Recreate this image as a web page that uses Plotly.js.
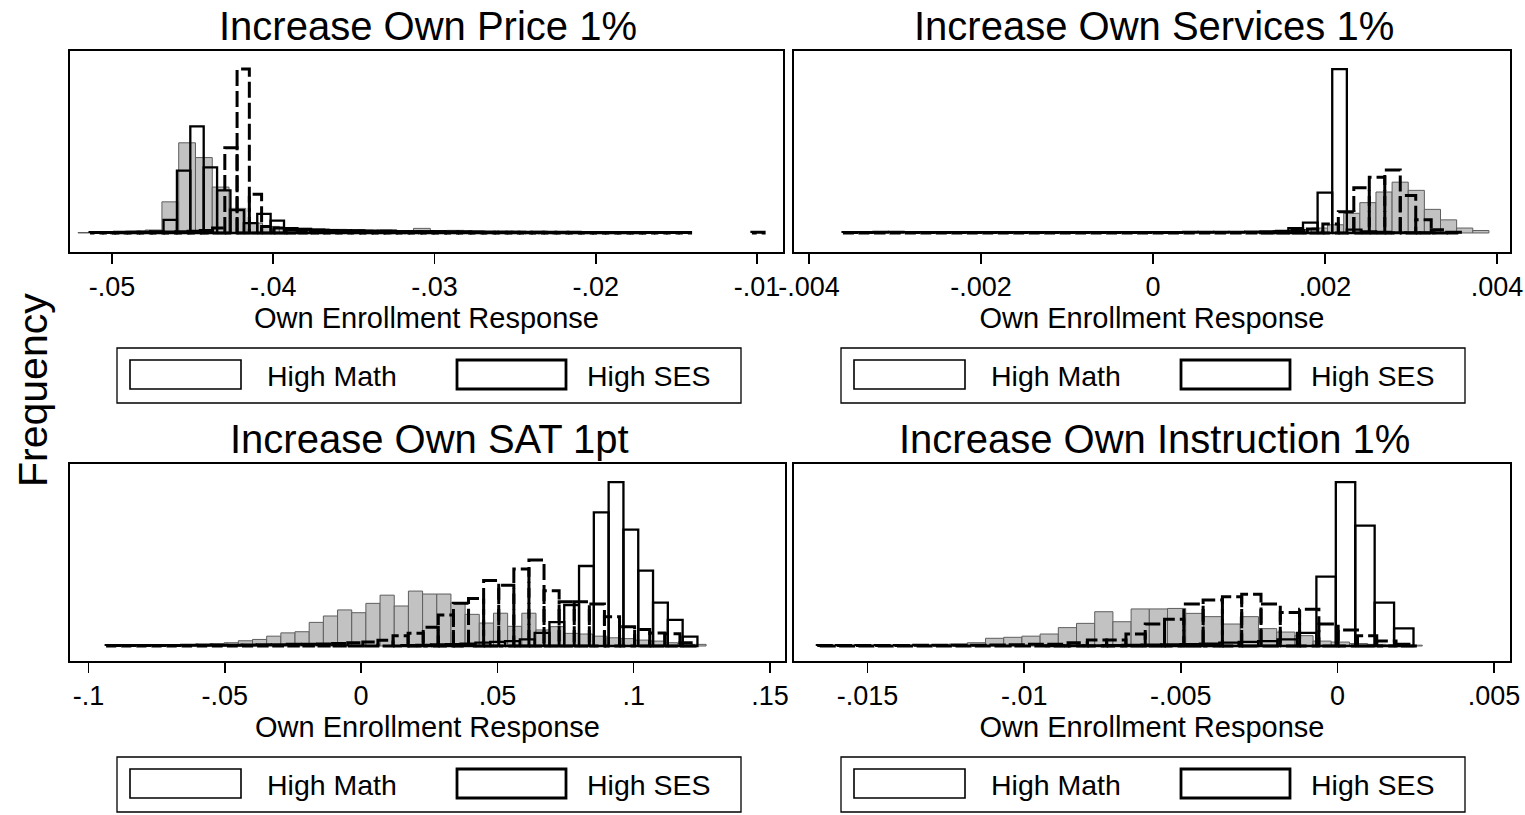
<!DOCTYPE html>
<html>
<head>
<meta charset="utf-8">
<script src="https://cdn.plot.ly/plotly-3.0.1.min.js"></script>
<style>html,body{margin:0;padding:0;background:#fff;}#chart{width:1525px;height:815px;}</style>
</head>
<body>
<div id="chart"></div>
<script>
// ---------------- DATA ----------------
// Heights are relative frequencies (tallest bar in each panel = 100).
const panelTitles = ['Increase Own Price 1%', 'Increase Own Services 1%', 'Increase Own SAT 1pt', 'Increase Own Instruction 1%'];
const xAxisTitle = 'Own Enrollment Response';
const yAxisTitle = 'Frequency';
const legendLabels = ['High Math', 'High SES'];

// Panel 1: Increase Own Price 1%
const priceAllStart = -0.0521, priceAllWidth = 0.00104;
const priceAll = [0.3, 0.5, 0.8, 1.2, 1.8, 19, 55, 46, 28, 15, 6, 4, 3, 2.8, 2.5, 2.2, 2, 1.8, 2, 1.5, 2.8, 1.3, 1.6, 1.2, 1, 1, 0.9, 1.1, 0.8, 0.8, 0.7, 0.6, 0.6, 0.5, 0.4, 0.3];
const priceMathStart = -0.05012, priceMathWidth = 0.00083;
const priceMath = [0.3, 0.4, 0.6, 1, 8, 38, 65, 40, 26, 14, 6, 11.6, 7.5, 3, 2.5, 2, 1.8, 1.5, 1.5, 1.2, 1.2, 1, 1, 1, 0.9, 0.8, 0.8, 0.7, 0.7, 0.6, 0.6, 0.5, 0.5, 0.5, 0.4, 0.4, 0.3, 0.3, 0.3, 0.3];
const priceSesStart = -0.05136, priceSesWidth = 0.00076;
const priceSes = [0.3, 0.3, 0.4, 0.4, 0.5, 0.5, 0.6, 0.8, 1, 1.5, 3, 52, 100, 23.6, 4, 3, 2, 1.8, 1.5, 1.3, 1.2, 1, 1, 0.9, 0.9, 0.8, 0.8, 0.7, 0.7, 0.6, 0.6, 0.6, 0.5, 0.5, 0.5, 0.5, 0.4, 0.4, 0.4, 0.4, 0.3, 0.3, 0.3, 0.3, 0.3, 0.3, 0.3, 0.3, 0.3, 0, 0, 0, 0, 0, 0.4];
const priceTickVals = [-0.05, -0.04, -0.03, -0.02, -0.01];
const priceTickText = ['-.05', '-.04', '-.03', '-.02', '-.01'];

// Panel 2: Increase Own Services 1%
const servAllStart = 0.000529, servAllWidth = 0.0001876;
const servAll = [0.3, 0.5, 0.6, 0.8, 1, 1.5, 2, 3, 5, 12, 18.5, 25, 31, 26, 14.4, 8, 3, 1.5];
const servMathStart = 0.001234, servMathWidth = 0.00017;
const servMath = [0.5, 1, 3, 6.3, 24.6, 100, 2, 1, 0.6, 0.4, 0.3, 0.3];
const servSesStart = -0.003605, servSesWidth = 0.00018;
const servSes = [0.3, 0.3, 0.5, 0.4, 0.3, 0.3, 0.3, 0.3, 0.3, 0.3, 0.3, 0.3, 0.3, 0.3, 0.3, 0.3, 0.3, 0.3, 0.3, 0.3, 0.3, 0.3, 0.4, 0.4, 0.5, 0.5, 0.6, 0.8, 1, 1.5, 2.5, 5.5, 13, 27.6, 34, 38.4, 22.8, 8, 2, 0.5];
const servTickVals = [-0.004, -0.002, 0, 0.002, 0.004];
const servTickText = ['-.004', '-.002', '0', '.002', '.004'];

// Panel 3: Increase Own SAT 1pt
const satAllStart = -0.06585, satAllWidth = 0.0052;
const satAll = [0.8, 1.2, 1.5, 2, 3.2, 4, 6, 8, 8.7, 14.4, 18.3, 22, 20.3, 26, 31, 24.4, 33.5, 31.7, 31.7, 26.4, 19.3, 14, 20, 12, 20, 9.8, 11.8, 7.7, 7.3, 6, 5, 4.5, 3.6, 3, 2, 1.5, 1];
const satMathStart = 0.01478, satMathWidth = 0.00543;
const satMath = [0.5, 0.7, 1, 1.2, 1.5, 2, 2.5, 3, 4, 8, 14.5, 25, 48.8, 81.5, 100, 71, 46, 26.4, 15.9, 5.7];
const satSesStart = -0.09356, satSesWidth = 0.00554;
const satSes = [0.3, 0.3, 0.3, 0.3, 0.3, 0.4, 0.4, 0.5, 0.5, 0.6, 0.7, 0.8, 1, 1, 1.2, 1.5, 2, 2.5, 3.5, 6.3, 7.7, 11.4, 18.9, 26, 29, 40, 37, 47, 52.4, 33.7, 27, 27, 25.6, 17.9, 11.8, 10, 8, 7.5, 2];
const satTickVals = [-0.1, -0.05, 0, 0.05, 0.1, 0.15];
const satTickText = ['-.1', '-.05', '0', '.05', '.1', '.15'];

// Panel 4: Increase Own Instruction 1%
const instAllStart = -0.01414, instAllWidth = 0.000581;
const instAll = [0.4, 0.5, 0.8, 1.2, 2, 4.7, 5.3, 6, 7.3, 11.2, 13.8, 20.9, 14.8, 22.6, 22.6, 22.9, 19.9, 17.9, 13.4, 17.9, 10.6, 8.5, 6.3, 3, 2.4, 1.5, 1, 0.7, 0.5];
const instMathStart = -0.009351, instMathWidth = 0.00062;
const instMath = [0.3, 0.3, 0.4, 0.5, 0.6, 0.8, 1, 1.2, 1.5, 2, 2.5, 3, 4, 8, 42.3, 100, 73.4, 26.4, 10.8];
const instSesStart = -0.016608, instSesWidth = 0.000616;
const instSes = [0.3, 0.3, 0.3, 0.3, 0.3, 0.4, 0.4, 0.5, 0.5, 0.6, 0.8, 1, 1, 2, 3.6, 3.6, 7.3, 13.4, 16.3, 25.6, 28, 30, 31.5, 25.6, 20.5, 22.4, 13.4, 9.8, 6.3, 3, 1];
const instTickVals = [-0.015, -0.01, -0.005, 0, 0.005];
const instTickText = ['-.015', '-.01', '-.005', '0', '.005'];

// ---------------- BUILD ----------------
const W = 1525, H = 815;
const fx = x => x / W;
const fy = y => 1 - y / H;
const FONT = 'Liberation Sans, Arial, Helvetica, sans-serif';

const panels = [
  {all:[priceAllStart, priceAllWidth, priceAll], math:[priceMathStart, priceMathWidth, priceMath], ses:[priceSesStart, priceSesWidth, priceSes],
   tv: priceTickVals, tt: priceTickText, xr: [-0.0526, -0.00839], box: [70, 783, 51, 252], yr: [-11.6, 111]},
  {all:[servAllStart, servAllWidth, servAll], math:[servMathStart, servMathWidth, servMath], ses:[servSesStart, servSesWidth, servSes],
   tv: servTickVals, tt: servTickText, xr: [-0.004174, 0.004151], box: [794, 1510, 51, 252], yr: [-11.6, 111]},
  {all:[satAllStart, satAllWidth, satAll], math:[satMathStart, satMathWidth, satMath], ses:[satSesStart, satSesWidth, satSes],
   tv: satTickVals, tt: satTickText, xr: [-0.1068, 0.1555], box: [70, 785, 464, 661], yr: [-9.15, 111]},
  {all:[instAllStart, instAllWidth, instAll], math:[instMathStart, instMathWidth, instMath], ses:[instSesStart, instSesWidth, instSes],
   tv: instTickVals, tt: instTickText, xr: [-0.01735, 0.00551], box: [794, 1510, 464, 661], yr: [-9.15, 111]}
];

function centers(start, width, counts) { return counts.map((c, i) => start + (i + 0.5) * width); }
function outline(start, width, counts) {
  const xs = [], ys = [];
  counts.forEach((h, i) => {
    if (h <= 0) return;
    const l = start + i * width, r = l + width;
    xs.push(l, l, r, r, l, null);
    ys.push(0, h, h, 0, 0, null);
  });
  return {x: xs, y: ys};
}

const traces = [];
const layout = {
  width: W, height: H,
  margin: {l: 0, r: 0, t: 0, b: 0},
  paper_bgcolor: '#ffffff', plot_bgcolor: '#ffffff',
  font: {family: FONT, color: '#000000', size: 27},
  showlegend: false,
  shapes: [], annotations: []
};

panels.forEach((p, k) => {
  const s = k === 0 ? '' : String(k + 1);
  const xa = 'x' + s, ya = 'y' + s;
  traces.push({
    type: 'bar', x: centers(...p.all), y: p.all[2], width: p.all[1],
    xaxis: xa, yaxis: ya, name: 'All',
    marker: {color: '#c2c2c2', line: {color: '#5e5e5e', width: 1}},
    hoverinfo: 'skip'
  });
  const m = outline(...p.math);
  traces.push({type: 'scatter', mode: 'lines', x: m.x, y: m.y, xaxis: xa, yaxis: ya, name: legendLabels[0],
    line: {color: '#000000', width: 2.3}, connectgaps: false, hoverinfo: 'skip'});
  const d = outline(...p.ses);
  traces.push({type: 'scatter', mode: 'lines', x: d.x, y: d.y, xaxis: xa, yaxis: ya, name: legendLabels[1],
    line: {color: '#000000', width: 3, dash: '16px,5px'}, connectgaps: false, hoverinfo: 'skip'});

  const [x0, x1, y0, y1] = p.box;
  layout['xaxis' + s] = {
    domain: [fx(x0), fx(x1)], anchor: ya, range: p.xr,
    showline: true, mirror: true, linecolor: '#000000', linewidth: 2,
    showgrid: false, zeroline: false,
    ticks: 'outside', ticklen: 10, tickwidth: 1.5, tickcolor: '#000000',
    tickmode: 'array', tickvals: p.tv, ticktext: p.tt,
    tickfont: {size: 27, family: FONT}, ticklabelstandoff: 0,
    title: {text: xAxisTitle, font: {size: 29, family: FONT}, standoff: 1}
  };
  layout['yaxis' + s] = {
    domain: [fy(y1), fy(y0)], anchor: xa, range: p.yr,
    showline: true, mirror: true, linecolor: '#000000', linewidth: 2,
    showgrid: false, zeroline: false, showticklabels: false, ticks: ''
  };

  // subplot title
  layout.annotations.push({text: panelTitles[k], xref: 'paper', yref: 'paper',
    x: fx((x0 + x1) / 2 + 2), y: fy(y0 - 25), xanchor: 'center', yanchor: 'middle', showarrow: false,
    font: {size: 40, family: FONT}});

  // legend box under the panel
  const lt = y1 + 96, lb = y1 + 151;
  const off = x0 - 70;
  layout.shapes.push({type: 'rect', xref: 'paper', yref: 'paper', x0: fx(117 + off), x1: fx(741 + off), y0: fy(lb), y1: fy(lt),
    line: {color: '#000000', width: 1.3}, fillcolor: 'rgba(0,0,0,0)'});
  layout.shapes.push({type: 'rect', xref: 'paper', yref: 'paper', x0: fx(130 + off), x1: fx(241 + off), y0: fy(lt + 41), y1: fy(lt + 12),
    line: {color: '#000000', width: 1.6}, fillcolor: '#ffffff'});
  layout.shapes.push({type: 'rect', xref: 'paper', yref: 'paper', x0: fx(457 + off), x1: fx(566 + off), y0: fy(lt + 41), y1: fy(lt + 12),
    line: {color: '#000000', width: 2.8}, fillcolor: '#ffffff'});
  layout.annotations.push({text: legendLabels[0], xref: 'paper', yref: 'paper', x: fx(265 + off), y: fy(lt + 28),
    xanchor: 'left', yanchor: 'middle', showarrow: false, font: {size: 28.5, family: FONT}});
  layout.annotations.push({text: legendLabels[1], xref: 'paper', yref: 'paper', x: fx(585 + off), y: fy(lt + 28),
    xanchor: 'left', yanchor: 'middle', showarrow: false, font: {size: 28.5, family: FONT}});
});

layout.annotations.push({text: yAxisTitle, xref: 'paper', yref: 'paper', x: fx(33), y: fy(390),
  xanchor: 'center', yanchor: 'middle', textangle: -90, showarrow: false, font: {size: 41, family: FONT}});

Plotly.newPlot('chart', traces, layout, {staticPlot: true, displayModeBar: false});
</script>
</body>
</html>
